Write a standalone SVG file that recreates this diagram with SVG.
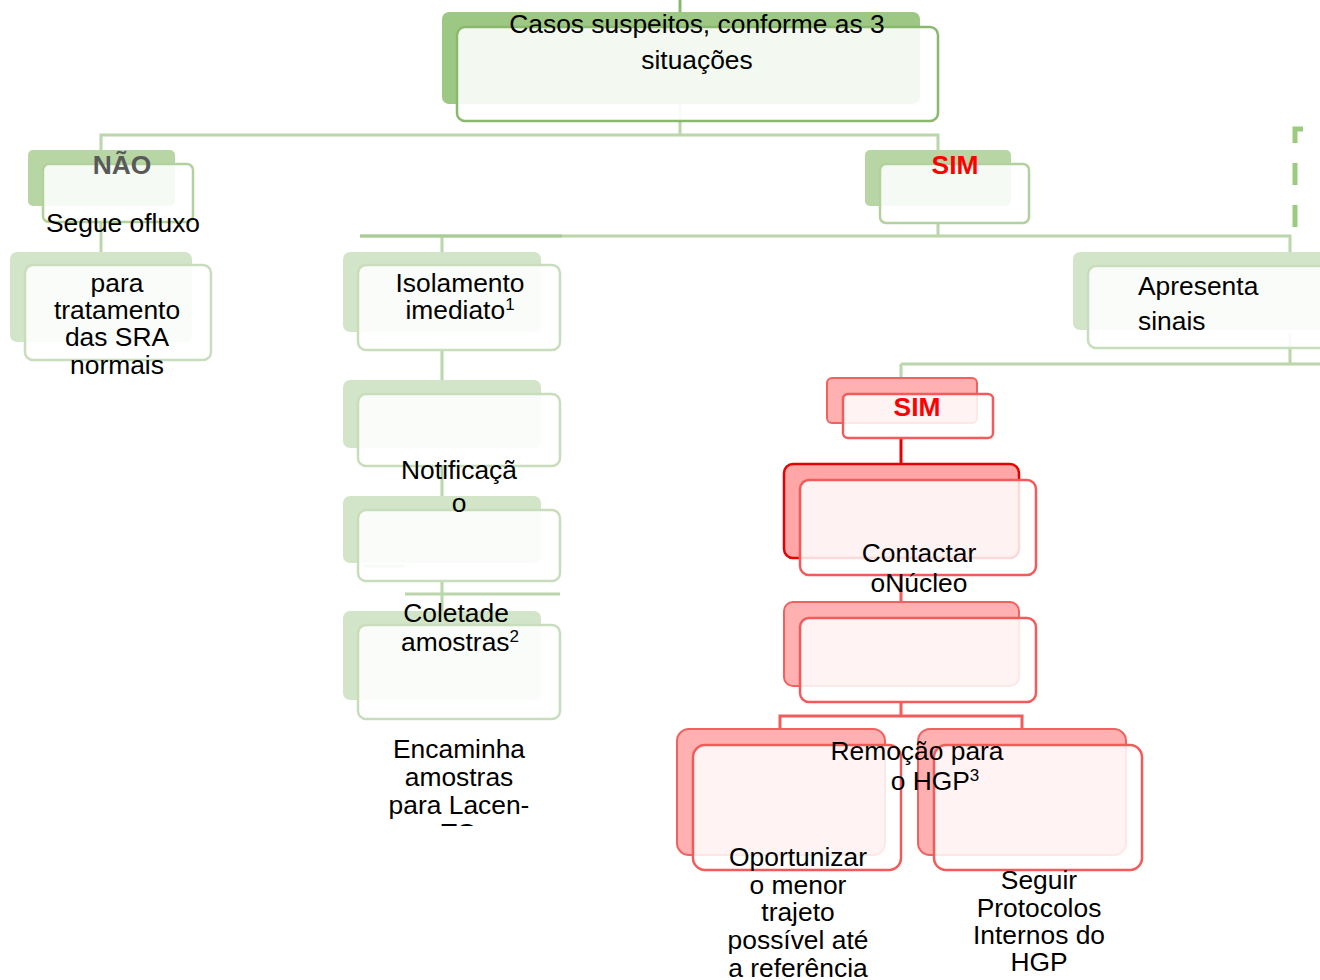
<svg xmlns="http://www.w3.org/2000/svg" width="1320" height="980" viewBox="0 0 1320 980">
<defs>
<style>
text{font-family:"Liberation Sans",Arial,sans-serif;font-size:26.4px;fill:#000}
.c{text-anchor:middle}
.b{font-weight:bold}
.gl{fill:none;stroke:#bad6aa;stroke-width:3}
.rl{fill:none;stroke:#f25c5c;stroke-width:3}
.backTop{fill:#9dc883}
.backMid{fill:#b7d6a3}
.backLow{fill:#d3e5c8}
.frontTop{fill:#fff;fill-opacity:.88;stroke:#8ab86c;stroke-width:2.5}
.frontMid{fill:#fff;fill-opacity:.88;stroke:#b3d19f;stroke-width:2.5}
.frontLow{fill:#fff;fill-opacity:.88;stroke:#c8ddbb;stroke-width:2.5}
.backRed{fill:#ffb0b0;stroke:#f26060;stroke-width:2}
.backRedS{fill:#ffa6a6;stroke:#e60000;stroke-width:2.5}
.frontRed{fill:#fff;fill-opacity:.85;stroke:#f55a5a;stroke-width:2.5}
.sup{font-size:17px}
</style>
<clipPath id="clipTO"><rect x="300" y="700" width="300" height="126"/></clipPath>
</defs>
<rect width="1320" height="980" fill="#fff"/>

<g id="connectors">
<path d="M680,0V12" fill="none" stroke="#8ab86c" stroke-width="3"/>
<path class="gl" d="M680,104V135M101,150V135H938V150"/>
<path class="gl" d="M101,222V252"/>
<path class="gl" d="M938,223V236M360,236H1290V252M442,236V252"/>
<path d="M360,236H562" fill="none" stroke="#a9cc96" stroke-width="3"/>
<path class="gl" d="M442,350V380M442,466V496M442,581V612"/>
<path class="gl" d="M363,566H405M405,594H560"/>
<path class="gl" d="M1290,333V364M901,364H1320M901,364V378"/>
<path d="M1303,129H1295V228" fill="none" stroke="#9ccb80" stroke-width="5" stroke-dasharray="22 20"/>
<path d="M901,438V464" fill="none" stroke="#e60000" stroke-width="3"/>
<path class="rl" d="M901,575V602M901,702V716M780,730V716H1022V730"/>
</g>

<g id="n-casos">
<rect class="backTop" x="442" y="12" width="478" height="92" rx="7"/>
<rect class="frontTop" x="457" y="27" width="481" height="94" rx="8"/>
<text class="c" x="697" y="33">Casos suspeitos, conforme as 3</text>
<text class="c" x="697" y="69">situações</text>
</g>

<g id="n-nao">
<rect class="backMid" x="28" y="150" width="147" height="56" rx="5"/>
<rect class="frontMid" x="43" y="164" width="150" height="58" rx="6"/>
<text class="c b" x="122" y="174" style="fill:#595959">NÃO</text>
<text class="c" x="123" y="232">Segue ofluxo</text>
</g>

<g id="n-para">
<rect class="backLow" x="10" y="252" width="182" height="90" rx="7"/>
<rect class="frontLow" x="25" y="265" width="186" height="95" rx="8"/>
<text class="c" x="117" y="292">para</text>
<text class="c" x="117" y="319">tratamento</text>
<text class="c" x="117" y="346">das SRA</text>
<text class="c" x="117" y="374">normais</text>
</g>

<g id="n-sim">
<rect class="backMid" x="865" y="150" width="146" height="56" rx="5"/>
<rect class="frontMid" x="880" y="164" width="149" height="59" rx="6"/>
<text class="c b" x="955" y="174" style="fill:#ff0000">SIM</text>
</g>

<g id="n-isolamento">
<rect class="backLow" x="343" y="252" width="198" height="80" rx="7"/>
<rect class="frontLow" x="358" y="265" width="202" height="85" rx="8"/>
<text class="c" x="460" y="292">Isolamento</text>
<text class="c" x="460" y="319">imediato<tspan class="sup" dy="-9">1</tspan></text>
</g>

<g id="n-notificacao">
<rect class="backLow" x="343" y="380" width="198" height="68" rx="7"/>
<rect class="frontLow" x="358" y="394" width="202" height="72" rx="8"/>
</g>

<g id="n-empty">
<rect class="backLow" x="343" y="496" width="198" height="67" rx="7"/>
<rect class="frontLow" x="358" y="510" width="202" height="71" rx="8"/>
</g>

<g id="t-notificacao">
<text class="c" x="459" y="479">Notificaçã</text>
<text class="c" x="459" y="512">o</text>
</g>

<g id="n-coleta">
<rect class="backLow" x="343" y="611" width="198" height="89" rx="7"/>
<rect class="frontLow" x="358" y="625" width="202" height="94" rx="8"/>
<text class="c" x="456" y="622">Coletade</text>
<text class="c" x="460" y="651">amostras<tspan class="sup" dy="-9">2</tspan></text>
</g>

<g id="n-encaminha" clip-path="url(#clipTO)">
<text class="c" x="459" y="758">Encaminha</text>
<text class="c" x="459" y="786">amostras</text>
<text class="c" x="459" y="814">para Lacen-</text>
<text class="c" x="459" y="842">TO</text>
</g>

<g id="n-apresenta">
<rect class="backLow" x="1073" y="252" width="260" height="78" rx="7"/>
<rect class="frontLow" x="1088" y="266" width="260" height="82" rx="8"/>
<text x="1138" y="295">Apresenta</text>
<text x="1138" y="330">sinais</text>
</g>

<g id="n-sim2">
<rect class="backRed" x="827" y="378" width="150" height="45" rx="5"/>
<rect class="frontRed" x="843" y="394" width="150" height="44" rx="5"/>
<text class="c b" x="917" y="416" style="fill:#ff0000">SIM</text>
</g>

<g id="n-contactar">
<rect class="backRedS" x="784" y="464" width="235" height="94" rx="9"/>
<rect class="frontRed" x="800" y="480" width="236" height="95" rx="9"/>
<text class="c" x="919" y="562">Contactar</text>
<text class="c" x="919" y="592">oNúcleo</text>
</g>

<g id="n-remocao">
<rect class="backRed" x="784" y="602" width="235" height="84" rx="9"/>
<rect class="frontRed" x="800" y="618" width="236" height="84" rx="9"/>
</g>

<g id="n-oportunizar">
<rect class="backRed" x="677" y="729" width="208" height="126" rx="12"/>
<rect class="frontRed" x="693" y="745" width="208" height="125" rx="12"/>
<text class="c" x="798" y="866">Oportunizar</text>
<text class="c" x="798" y="894">o menor</text>
<text class="c" x="798" y="921">trajeto</text>
<text class="c" x="798" y="949">possível até</text>
<text class="c" x="798" y="977">a referência</text>
</g>

<g id="n-seguir">
<rect class="backRed" x="918" y="729" width="208" height="126" rx="12"/>
<rect class="frontRed" x="934" y="745" width="208" height="125" rx="12"/>
<text class="c" x="1039" y="889">Seguir</text>
<text class="c" x="1039" y="917">Protocolos</text>
<text class="c" x="1039" y="944">Internos do</text>
<text class="c" x="1039" y="971">HGP</text>
</g>

<g id="t-remocao">
<text class="c" x="917" y="760">Remoção para</text>
<text class="c" x="935" y="790">o HGP<tspan class="sup" dy="-9">3</tspan></text>
</g>
</svg>
